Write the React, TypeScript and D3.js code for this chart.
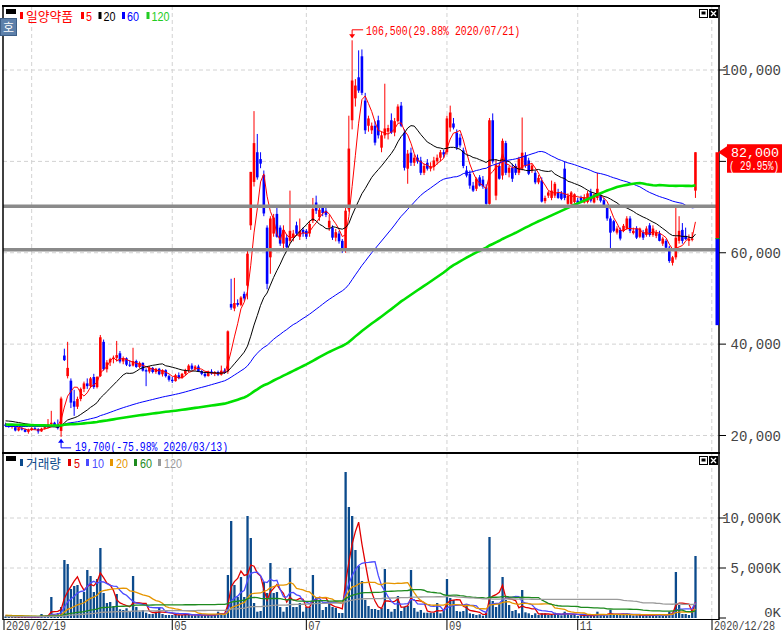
import React from 'react'
import * as d3 from 'd3'

type Candle = [number, number, number, number] // open, high, low, close

const stockName = '일양약품'
const volName = '거래량'
const startDate = '2020/02/19'
const endDate = '2020/12/28'
const hiDate = '2020/07/21'
const loDate = '2020/03/13'

// closes before the visible range (only used to seed the moving averages)
const priorCloses = [
  23500, 23700, 23400, 23200, 23600, 23900, 23800, 23500, 23300, 23100,
  22900, 23200, 23400, 23600, 23300, 23000, 22800, 22700, 22900, 23100,
  23300, 23500, 23400, 23200, 23000, 22800, 22600, 22900, 23200, 23400,
  23300, 23100, 22900, 22700, 22600, 22800, 23000, 23200, 23100, 22900,
  22700, 22500, 22400, 22600, 22800, 22700, 22500, 22300, 22200, 22400,
  22600, 22500, 22300, 22100, 22000, 21900, 22100, 22200, 22000, 21800,
  21700, 21500, 21300, 21200, 21400, 21300, 21100, 20900, 20800, 21000,
  21200, 21100, 20900, 20700, 20800, 21000, 21200, 21300, 21100, 21000,
  20900, 21100, 21300, 21500, 21400, 21200, 21000, 21100, 21300, 21500,
  21600, 21400, 21300, 21200, 21400, 21600, 21800, 22000, 22200, 22500,
  22800, 23100, 23500, 23800, 24000, 23700, 23500, 23300, 23600, 23900,
  23700, 23400, 23200, 23000, 22800, 22900, 23100, 22700, 22500, 22400,
]
const priorVolumes = [
  110, 90, 120, 100, 80, 130, 95, 105, 90, 140,
  100, 85, 115, 120, 90, 100, 130, 110, 95, 85,
  105, 120, 90, 80, 100, 115, 125, 95, 90, 110,
  130, 100, 85, 95, 120, 105, 90, 110, 100, 80,
  95, 120, 130, 100, 90, 85, 110, 105, 95, 120,
  100, 90, 80, 115, 125, 100, 95, 110, 90, 100,
  120, 130, 105, 90, 85, 100, 115, 95, 110, 100,
  90, 85, 120, 110, 100, 95, 105, 130, 120, 100,
  90, 110, 100, 95, 85, 120, 140, 110, 100, 90,
  105, 115, 95, 100, 120, 110, 90, 100, 130, 150,
  260, 380, 450, 320, 280, 250, 310, 420, 360, 300,
  270, 240, 330, 290, 260, 230, 250, 220, 200, 180,
]

const feb: Candle[] = [
  [22400, 22800, 21900, 22100], [22100, 22500, 21700, 21900], [21900, 22300, 21500, 22200], [21800, 21900, 20900, 21100],
  [21100, 21800, 20900, 21600], [21600, 21900, 21100, 21300], [21300, 21500, 20700, 20800], [20800, 21500, 20400, 21200],
]
const mar: Candle[] = [
  [21200, 21800, 21000, 21600], [21600, 21900, 21200, 21400], [21400, 21600, 20400, 20900], [20900, 21700, 20800, 21500],
  [21500, 22000, 21300, 21800], [21800, 23600, 21600, 22500], [22500, 25400, 22200, 22800], [22800, 23000, 21900, 22100],
  [22100, 23500, 21300, 21600], [21000, 28500, 19700, 28100], [37500, 39000, 36300, 36500], [33000, 40500, 32500, 34800],
  [32000, 32500, 26000, 27200], [27500, 30000, 24300, 26300], [26300, 28500, 25800, 28000], [28000, 30500, 27500, 30200],
  [30200, 31800, 29500, 31400], [31400, 32500, 30200, 30800], [30800, 32800, 30400, 32500], [32800, 33500, 30200, 30600],
  [30600, 33000, 30300, 32800], [33000, 42000, 32800, 41500],
]
const apr: Candle[] = [
  [40500, 41000, 34200, 34500], [34500, 36500, 33800, 36000], [36000, 37000, 35200, 36700], [36700, 37500, 35800, 37000],
  [37000, 40700, 36200, 37600], [38000, 38500, 35800, 36200], [36200, 37300, 35600, 36900], [36900, 37100, 35200, 35500],
  [35500, 36500, 35000, 35300], [35300, 39200, 35100, 36300], [36300, 36600, 34800, 35000], [35000, 36200, 34700, 35900],
  [35900, 36000, 34000, 34200], [34300, 34700, 30800, 34000], [34000, 35200, 33600, 34800], [34800, 35000, 33600, 33900],
  [33900, 34800, 33500, 34600], [34600, 34800, 33200, 33400], [33400, 34500, 32900, 34300], [34300, 34500, 32700, 33000],
  [33000, 33300, 31800, 32200],
]
const may: Candle[] = [
  [32200, 32800, 31500, 31900], [31900, 33500, 31800, 33200], [33200, 33800, 32300, 32600], [32600, 33700, 32400, 33500],
  [33500, 34600, 33100, 34300], [34300, 35600, 33900, 35300], [35300, 35800, 34300, 34600], [34600, 35400, 34200, 35100],
  [35100, 35500, 33900, 34100], [34100, 34300, 33200, 33500], [33500, 34000, 32700, 33000], [33000, 34200, 32900, 34000],
  [34000, 34500, 33300, 33600], [33600, 34100, 33000, 33900], [33900, 34200, 33000, 33300], [33300, 35300, 33100, 34200],
  [34200, 34700, 33500, 33900], [34000, 43000, 33500, 42800], [48800, 54300, 47500, 48000],
]
const jun: Candle[] = [
  [47800, 54500, 47200, 49000], [49000, 49800, 48200, 48600], [48600, 50500, 48300, 50200], [51000, 51500, 49500, 50000],
  [52800, 60500, 49800, 59800], [66000, 77700, 65000, 77700], [75500, 91000, 74500, 84000], [82000, 86000, 76000, 76500],
  [80500, 82000, 78500, 79500], [77000, 78000, 68000, 68600], [65500, 66000, 52000, 53200], [59000, 68000, 55400, 67500],
  [64200, 68500, 63500, 67700], [68500, 70000, 63300, 63500], [65500, 66000, 61500, 62000], [62000, 66000, 61000, 65000],
  [63300, 64000, 60500, 61200], [62600, 73600, 62000, 64800], [63300, 65000, 62500, 64200], [66000, 66800, 63800, 64200],
  [63500, 67500, 62800, 64800], [65000, 65500, 63500, 64200],
]
const jul: Candle[] = [
  [64800, 65200, 63000, 63500], [64200, 67000, 63500, 66300], [67000, 72000, 66500, 69600], [71000, 72500, 68500, 69200],
  [67800, 70000, 67000, 69400], [69800, 70500, 68000, 68700], [69200, 69800, 67800, 68300], [65500, 68300, 64800, 67000],
  [65500, 66000, 62800, 63300], [63300, 65200, 62500, 64500], [64200, 64800, 62000, 62500], [62600, 63000, 60000, 60400],
  [60400, 70000, 60000, 69200], [69500, 90000, 69000, 82800], [89000, 106500, 87000, 97700], [93800, 98000, 92000, 96600],
  [98400, 104300, 95000, 95500], [103000, 104500, 94500, 95000], [93300, 95000, 86000, 86800], [87800, 90000, 86500, 89400],
  [86800, 88500, 86000, 87800], [87800, 88800, 83500, 84100], [89000, 90000, 85000, 85700],
]
const aug: Candle[] = [
  [83000, 86500, 82000, 85700], [85700, 97000, 85000, 87200], [86500, 88000, 84800, 87300], [89000, 90500, 86000, 86300],
  [86300, 89500, 85500, 88800], [88800, 92500, 88500, 92000], [92200, 93000, 87500, 87800], [86300, 87000, 78000, 78600],
  [78400, 82500, 75100, 81700], [81900, 83000, 79000, 79700], [79700, 81500, 79000, 80800], [80800, 81500, 79500, 80000],
  [80200, 81000, 77000, 77500], [77500, 79500, 77000, 79000], [79700, 80500, 78000, 78400], [78400, 79800, 77800, 78900],
  [78800, 81000, 78000, 80200], [80000, 81500, 79300, 80800], [80800, 82500, 80000, 82000], [82000, 82500, 80800, 81500],
]
const sep: Candle[] = [
  [82000, 90000, 81500, 89400], [87400, 92200, 86500, 90700], [88300, 89500, 87000, 87400], [86300, 87000, 82500, 83000],
  [85200, 86000, 83000, 83500], [82400, 83000, 78500, 79000], [78000, 79000, 76500, 76900], [77300, 78000, 74000, 74700],
  [74700, 75500, 73300, 73600], [74000, 76500, 73500, 76200], [76500, 77000, 74500, 74700], [76000, 76800, 74000, 74500],
  [74300, 75000, 70500, 70700], [70700, 89500, 70500, 89000], [89000, 90500, 79500, 80000], [72500, 80500, 71500, 79300],
  [79000, 79800, 76000, 76200], [76900, 85000, 76000, 84500], [84000, 84500, 77000, 77500], [77500, 79000, 76500, 78600],
  [78600, 79500, 75500, 76200],
]
const oct: Candle[] = [
  [79000, 79500, 77000, 77500], [77500, 81000, 77000, 80600], [78400, 89600, 78000, 81900], [81300, 82000, 78600, 79100],
  [80200, 80800, 77000, 77300], [78000, 79500, 77500, 79100], [77500, 78000, 75000, 75400], [75400, 77000, 75000, 76400],
  [75800, 76500, 71000, 71200], [71300, 72500, 70800, 72000], [72500, 73500, 72000, 73200], [72000, 75800, 71500, 73600],
  [72500, 75500, 72000, 75100], [73200, 74000, 71800, 72000], [73000, 73500, 71500, 71800], [78400, 80000, 71500, 72000],
  [70700, 73000, 70200, 72500], [70700, 73500, 70500, 73200], [71100, 73000, 70800, 72800],
]
const nov: Candle[] = [
  [71400, 72000, 70500, 70700], [72000, 72500, 71000, 71400], [71000, 72800, 70800, 72100], [71100, 73500, 70800, 73000],
  [73200, 74000, 71000, 71400], [71000, 73000, 70800, 72800], [72000, 77500, 71500, 74000], [72500, 73000, 71000, 71400],
  [71500, 72000, 70000, 70300], [70000, 70500, 67000, 67500], [67500, 68000, 60900, 64400], [66900, 67200, 64500, 64800],
  [64400, 65800, 64000, 65300], [65000, 65500, 62700, 63100], [64800, 66300, 64500, 65900], [65300, 68000, 65000, 67500],
  [67500, 68000, 64300, 64800], [64300, 65500, 64000, 64800], [65300, 65800, 63000, 63300], [63500, 65500, 63200, 65300],
  [64500, 65000, 62800, 63300],
]
const dec: Candle[] = [
  [63900, 65800, 63500, 65300], [66000, 66500, 63500, 63900], [63900, 66000, 63500, 65300], [63700, 65000, 63200, 64400],
  [64200, 64800, 62500, 62600], [62000, 63500, 61500, 63100], [62600, 63000, 60800, 61100], [61100, 61500, 57800, 58200],
  [57800, 59300, 57200, 59000], [59000, 70000, 58500, 63300], [62600, 68000, 62000, 64800], [65000, 66500, 62000, 62600],
  [63700, 65500, 62800, 63000], [62600, 64000, 61500, 63100], [62800, 64500, 62500, 63100], [73600, 82000, 72000, 82000],
]

// volume in thousands of shares
const volFeb = [150, 100, 90, 130, 110, 90, 100, 80]
const volMar = [120, 100, 110, 400, 150, 250, 2100, 300, 500, 1100, 5800, 5400, 2900, 3200, 3300, 1900, 2600, 4800, 4200, 2600, 3900, 7000]
const volApr = [2500, 1500, 1600, 1200, 2400, 870, 800, 970, 600, 4200, 1100, 630, 800, 530, 400, 400, 630, 1100, 400, 300, 300]
const volMay = [300, 400, 300, 300, 400, 300, 270, 270, 400, 270, 270, 300, 270, 400, 630, 470, 400, 4300, 9700]
const volJun = [3300, 2100, 4100, 2100, 10200, 8000, 1500, 630, 700, 3600, 2500, 5500, 2500, 2600, 1100, 630, 1100, 5000, 1100, 1100, 1500, 630]
const volJul = [1100, 1100, 4300, 2100, 1800, 800, 1100, 1500, 1100, 1000, 500, 500, 14600, 11100, 10200, 6800, 5200, 3700, 1800, 1200, 900, 900, 800]
const volAug = [1000, 4900, 900, 630, 900, 2200, 700, 1100, 1200, 4800, 1000, 630, 800, 530, 530, 530, 530, 1500, 470, 800]
const volSep = [3900, 2000, 1800, 700, 630, 700, 1300, 470, 400, 300, 370, 230, 530, 8100, 1700, 1100, 1400, 4100, 1800, 1300, 700]
const volOct = [800, 470, 2800, 570, 470, 300, 470, 300, 470, 470, 300, 300, 530, 400, 270, 630, 370, 300, 300]
const volNov = [200, 270, 300, 200, 200, 270, 630, 300, 300, 270, 800, 300, 300, 300, 400, 470, 300, 250, 270, 300, 250]
const volDec = [270, 300, 250, 270, 300, 270, 370, 630, 530, 4600, 1300, 400, 400, 300, 630, 6200]

const levelLines = [70200, 60650]
const priceTicks = [20000, 40000, 60000, 80000, 100000]
const volTicks = [0, 5000, 10000]
const gridIdx = [8, 51, 92, 135, 175, 216]
const monthTicks = ['05', '07', '09', '11']
const monthTickIdx = [51, 92, 135, 175]
const priceMAs = [5, 20, 60, 120]
const volMAs = [5, 10, 20, 60, 120]

const priceMAColors = ['#ff0000', '#000000', '#0000ff', '#00e000']
const priceMAWidths = [1, 1, 1, 2.6]
const priceLegendColors = ['#ff0000', '#000000', '#0000ff', '#22cc22']
const volMAColors = ['#e00000', '#4a4aff', '#e69500', '#1e8a1e', '#9a9a9a']
const UP = '#ff0000'
const DOWN = '#0000ff'
const VOL = '#0b4a8c'
const AXIS_FONT = "'Liberation Mono', 'DejaVu Sans Mono', monospace"
const LEG_FONT = "'Liberation Sans', 'Noto Sans CJK KR', sans-serif"
const KR_FONT = "'Noto Sans CJK KR', 'Noto Sans', sans-serif"

function movingAvg(values: number[], prior: number[], len: number) {
  const all = prior.concat(values)
  return values.map((_, i) => {
    const end = prior.length + i + 1
    return d3.mean(all.slice(Math.max(0, end - len), end)) as number
  })
}

function Icons({ y }: { y: number }) {
  return (
    <g>
      <rect x={699.5} y={y + 0.5} width={8} height={8} fill="#fff" stroke="#000" />
      <rect x={701.5} y={y + 2.5} width={4} height={3} fill="#000" />
      <rect x={709} y={y} width={9} height={9} fill="#000" />
      <path d={`M711,${y + 2}L716,${y + 7}M716,${y + 2}L711,${y + 7}`} stroke="#fff" strokeWidth={1.3} />
    </g>
  )
}

export default function App() {
  const candles = [...feb, ...mar, ...apr, ...may, ...jun, ...jul, ...aug, ...sep, ...oct, ...nov, ...dec]
  const volumes = [...volFeb, ...volMar, ...volApr, ...volMay, ...volJun, ...volJul, ...volAug, ...volSep, ...volOct, ...volNov, ...volDec]
  const closes = candles.map((c) => c[3])
  const highs = candles.map((c) => c[1])
  const lows = candles.map((c) => c[2])

  const x = d3.scaleLinear().domain([0, 216]).range([5.5, 711.8])
  const y = d3.scaleLinear().domain([20000, 100000]).range([435.5, 70])
  const yv = d3.scaleLinear().domain([0, 10000]).range([618, 518])

  const priceLine = d3.line<number>().x((_, i) => x(i)).y((v) => y(v))
  const volLine = d3.line<number>().x((_, i) => x(i)).y((v) => yv(v))

  const fmt = d3.format(',')
  const last = closes[closes.length - 1]
  const prev = closes[closes.length - 2]
  const upLimit = last
  const downLimit = Math.round((prev * 0.7) / 50) * 50
  const chg = (((last - prev) / prev) * 100).toFixed(2)

  const hiIdx = d3.maxIndex(highs)
  const loIdx = d3.minIndex(lows)
  const hi = highs[hiIdx]
  const lo = lows[loIdx]
  const hiPct = (((hi - last) / last) * 100).toFixed(2)
  const loPct = (((lo - last) / last) * 100).toFixed(2)
  const hx = x(hiIdx)
  const hy = y(hi)
  const lx = x(loIdx)
  const ly = y(lo)

  // the current-price tag hides the axis label it sits on
  const tagTop = y(last) - 8
  const tagBottom = tagTop + 28.5
  const shownPriceLabels = priceTicks.filter((t) => y(t) < tagTop - 6 || y(t) > tagBottom + 6)

  return (
    <div style={{ position: 'absolute', left: 0, top: 0 }}>
      <svg width={782} height={633} viewBox="0 0 782 633" style={{ display: 'block', background: '#fff' }}>
        <defs>
          <clipPath id="pclip"><rect x={3} y={6} width={716} height={447} /></clipPath>
          <clipPath id="vclip"><rect x={3} y={453} width={716} height={166} /></clipPath>
        </defs>

        {/* grid */}
        <g stroke="#d2d2d2" strokeDasharray="4,3" strokeWidth={1}>
          {priceTicks.map((t) => <line key={'pg' + t} x1={3} x2={719} y1={y(t)} y2={y(t)} />)}
          {volTicks.filter((t) => t > 0).map((t) => <line key={'vg' + t} x1={3} x2={719} y1={yv(t)} y2={yv(t)} />)}
          {gridIdx.map((i) => <line key={'xg' + i} x1={x(i)} x2={x(i)} y1={6} y2={619} />)}
        </g>

        {/* candles */}
        <g clipPath="url(#pclip)">
          {candles.map(([o, h, l, c], i) => {
            const col = c >= o ? UP : DOWN
            const top = y(Math.max(o, c))
            const bot = y(Math.min(o, c))
            return (
              <g key={i}>
                <line x1={x(i)} x2={x(i)} y1={y(h)} y2={y(l)} stroke={col} strokeWidth={1} />
                <rect x={x(i) - 1.3} y={top} width={2.6} height={Math.max(1, bot - top)} fill={col} />
              </g>
            )
          })}
          {priceMAs.map((n, k) => (
            <path key={'pma' + n} d={priceLine(movingAvg(closes, priorCloses, n)) || ''} fill="none"
              stroke={priceMAColors[k]} strokeWidth={priceMAWidths[k]} />
          ))}
          {levelLines.map((v) => <line key={'lv' + v} x1={3} x2={719} y1={y(v)} y2={y(v)} stroke="#8a8a8a" strokeWidth={3.5} />)}
        </g>

        {/* high / low annotations */}
        <g>
          <path d={`M${hx},${hy - 3}L${hx},${hy - 10.5}L${hx + 11},${hy - 10.5}`} fill="none" stroke="#ff0000" strokeWidth={1} />
          <path d={`M${hx - 3},${hy - 6}L${hx + 3},${hy - 6}L${hx},${hy - 2}Z`} fill="#ff0000" />
          <text x={hx + 14} y={hy - 5} fill="#ff0000" fontFamily={AXIS_FONT} fontSize={12.5}
            textLength={154} lengthAdjust="spacingAndGlyphs">{`${fmt(hi)}(${hiPct}% ${hiDate})`}</text>
          <path d={`M${lx},${ly + 3}L${lx},${ly + 11}L${lx + 10},${ly + 11}`} fill="none" stroke="#0000ff" strokeWidth={1} />
          <path d={`M${lx - 3},${ly + 6}L${lx + 3},${ly + 6}L${lx},${ly + 2}Z`} fill="#0000ff" />
          <text x={lx + 14} y={ly + 14.5} fill="#0000ff" fontFamily={AXIS_FONT} fontSize={12.5}
            textLength={153} lengthAdjust="spacingAndGlyphs">{`${fmt(lo)}(${loPct}% ${loDate})`}</text>
        </g>

        {/* volume */}
        <g clipPath="url(#vclip)">
          {volumes.map((v, i) => (
            <rect key={'v' + i} x={x(i) - 1.1} y={yv(v)} width={2.3} height={yv(0) - yv(v)} fill={VOL} />
          ))}
          {volMAs.map((n, k) => (
            <path key={'vma' + n} d={volLine(movingAvg(volumes, priorVolumes, n)) || ''} fill="none"
              stroke={volMAColors[k]} strokeWidth={1.3} />
          ))}
        </g>

        {/* frames */}
        <g fill="none" stroke="#000">
          <line x1={2} x2={720} y1={6} y2={6} strokeWidth={2} />
          <line x1={3} x2={3} y1={6} y2={620} strokeWidth={1.5} />
          <line x1={719} x2={719} y1={6} y2={620} strokeWidth={1.5} />
          <line x1={2} x2={720} y1={453} y2={453} strokeWidth={2} />
          <line x1={3} x2={719} y1={619.5} y2={619.5} strokeWidth={1} />
        </g>

        {/* price axis */}
        <g>
          {priceTicks.map((t) => <line key={'ptk' + t} x1={719} x2={726} y1={y(t)} y2={y(t)} stroke="#000" />)}
          {shownPriceLabels.map((t) => (
            <text key={'pt' + t} x={781} y={y(t) + 5} textAnchor="end" fill="#444" fontFamily={AXIS_FONT} fontSize={14}
              textLength={fmt(t).length * 8.4} lengthAdjust="spacingAndGlyphs">{fmt(t)}</text>
          ))}
          {volTicks.map((t) => (
            <g key={'vt' + t}>
              <line x1={719} x2={726} y1={yv(t)} y2={yv(t)} stroke="#000" />
              <text x={781} y={t === 0 ? yv(t) - 1.5 : yv(t) + 5} textAnchor="end" fill="#444" fontFamily={AXIS_FONT}
                fontSize={t === 0 ? 13 : 14}
                textLength={(fmt(t) + 'K').length * 8.4} lengthAdjust="spacingAndGlyphs">{fmt(t) + 'K'}</text>
            </g>
          ))}
        </g>

        {/* up/down limit bar and current price tag */}
        <rect x={715.5} y={y(upLimit)} width={3.5} height={y(prev) - y(upLimit)} fill="#ff0000" />
        <rect x={715.5} y={y(prev)} width={3.5} height={y(downLimit) - y(prev)} fill="#0000ff" />
        <line x1={715.5} x2={719} y1={y(prev)} y2={y(prev)} stroke="#00b000" strokeWidth={1} />
        <path d={`M718,${y(last)}L727,${y(last) - 6}L727,${y(last) + 6}Z`} fill="#ff0000" />
        <rect x={727} y={tagTop} width={55} height={28.5} fill="#ff0000" />
        <text x={779} y={y(last) + 4.5} textAnchor="end" fill="#fff" fontFamily={AXIS_FONT} fontSize={12.5}
          textLength={48} lengthAdjust="spacingAndGlyphs">{fmt(last)}</text>
        <text x={779} y={y(last) + 18} textAnchor="end" fill="#fff" fontFamily={AXIS_FONT} fontSize={12.5}
          textLength={50} lengthAdjust="spacingAndGlyphs">{`( ${chg}%)`}</text>

        {/* date axis */}
        <g stroke="#000">
          <line x1={4} x2={4} y1={620} y2={630} />
          {monthTickIdx.map((i) => <line key={'mt' + i} x1={x(i)} x2={x(i)} y1={620} y2={630} />)}
          <line x1={712} x2={712} y1={620} y2={630} />
        </g>
        <g fill="#444" fontFamily={AXIS_FONT} fontSize={12}>
          <text x={6} y={629.5} textLength={60} lengthAdjust="spacingAndGlyphs">{startDate}</text>
          {monthTicks.map((m, k) => (
            <text key={m} x={x(monthTickIdx[k]) + 2} y={629.5} textLength={12.5} lengthAdjust="spacingAndGlyphs">{m}</text>
          ))}
          <text x={714} y={629.5} textLength={61} lengthAdjust="spacingAndGlyphs">{endDate}</text>
        </g>

        {/* price legend */}
        <rect x={6} y={9} width={10} height={5} fill="#000" />
        <rect x={0.5} y={18.5} width={16} height={17} fill="#5d80aa" stroke="#3d5f88" />
        <text x={8.5} y={32} textAnchor="middle" fill="#fff" fontFamily={KR_FONT} fontSize={12}>호</text>
        <g fontFamily={LEG_FONT} fontSize={12}>
          <rect x={20} y={12} width={3} height={7} fill="#ff0000" />
          <text x={26} y={20.5} fill="#ff0000" fontFamily={KR_FONT} fontSize={13} textLength={47} lengthAdjust="spacingAndGlyphs">{stockName}</text>
          {priceMAs.map((n, k) => {
            const bx = [81, 98.5, 122, 146.5][k]
            return (
              <g key={'pl' + n}>
                <rect x={bx} y={12} width={3} height={7} fill={priceLegendColors[k]} />
                <text x={bx + 5} y={20.5} fill={priceLegendColors[k]}
                  textLength={String(n).length * 6} lengthAdjust="spacingAndGlyphs">{n}</text>
              </g>
            )
          })}
        </g>
        <Icons y={9} />

        {/* volume legend */}
        <rect x={6} y={456} width={10} height={5} fill="#000" />
        <g fontFamily={LEG_FONT} fontSize={12}>
          <rect x={20} y={459} width={3} height={7} fill={VOL} />
          <text x={26} y={467.5} fill={VOL} fontFamily={KR_FONT} fontSize={13} textLength={35} lengthAdjust="spacingAndGlyphs">{volName}</text>
          {volMAs.map((n, k) => {
            const bx = [68, 86, 110, 134, 158][k]
            return (
              <g key={'vl' + n}>
                <rect x={bx} y={459} width={3} height={7} fill={volMAColors[k]} />
                <text x={bx + 6} y={467.5} fill={volMAColors[k]}
                  textLength={String(n).length * 6} lengthAdjust="spacingAndGlyphs">{n}</text>
              </g>
            )
          })}
        </g>
        <Icons y={456} />
      </svg>
    </div>
  )
}
